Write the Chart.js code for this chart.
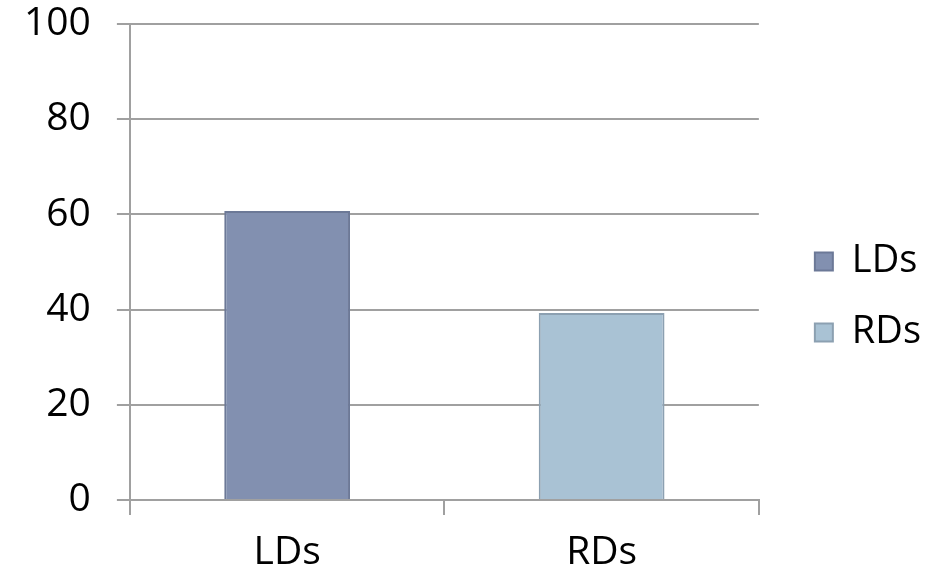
<!DOCTYPE html>
<html>
<head>
<meta charset="utf-8">
<script src="https://cdn.jsdelivr.net/npm/chart.js@4"></script>
<style>
html,body{margin:0;padding:0;background:#fff;}
#wrap{width:933px;height:570px;position:relative;}
</style>
</head>
<body>
<div id="wrap"><canvas id="c" width="933" height="570"></canvas></div>
<script>
const categories = ["LDs", "RDs"];
const seriesNames = ["LDs", "RDs"];
const ldsValues = [60.7, null];
const rdsValues = [null, 39.3];
const yTicks = [0, 20, 40, 60, 80, 100];

const FONT = "'Open Sans', sans-serif";
const grid = '#A0A0A0';

new Chart(document.getElementById('c'), {
  type: 'bar',
  data: {
    labels: categories,
    datasets: [
      {label: seriesNames[0], data: ldsValues, backgroundColor: '#8290B0', borderColor: '#6C7997', borderWidth: 2, skipNull: true},
      {label: seriesNames[1], data: rdsValues, backgroundColor: '#A9C2D4', borderColor: '#8CA0B1', borderWidth: 2, skipNull: true}
    ]
  },
  options: {
    responsive: false,
    animation: false,
    layout: {padding: {top: 24, right: 2, bottom: 0, left: -2}},
    datasets: {bar: {barPercentage: 0.4, categoryPercentage: 1.0}},
    plugins: {
      tooltip: {enabled: false},
      legend: {
        position: 'right',
        labels: {
          font: {family: FONT, size: 38},
          color: '#000',
          boxWidth: 18,
          boxHeight: 18,
          padding: 33
        }
      }
    },
    scales: {
      x: {
        grid: {display: true, drawOnChartArea: false, drawTicks: true, tickLength: 15, color: grid, lineWidth: 2, offset: true},
        border: {display: true, color: grid, width: 2},
        ticks: {font: {family: FONT, size: 39, lineHeight: 1}, color: '#000', padding: 18},
        afterFit: (s) => { s.paddingLeft = 0; s.paddingRight = 0; s.height = 70; }
      },
      y: {
        min: 0, max: 100,
        afterBuildTicks: (s) => { s.ticks = yTicks.map(v => ({value: v})); },
        grid: {color: grid, lineWidth: 2, tickLength: 13, drawTicks: true},
        border: {display: true, color: grid, width: 2},
        ticks: {font: {family: FONT, size: 39, lineHeight: 1}, color: '#000', padding: 26},
        afterFit: (s) => { s.paddingTop = 0; s.paddingBottom = 0; }
      },
      ySpacer: {
        position: 'right',
        display: true,
        grid: {display: false},
        border: {display: false},
        ticks: {display: false},
        afterFit: (s) => { s.width = 23; s.paddingTop = 0; s.paddingBottom = 0; }
      }
    }
  }
});
</script>
</body>
</html>
